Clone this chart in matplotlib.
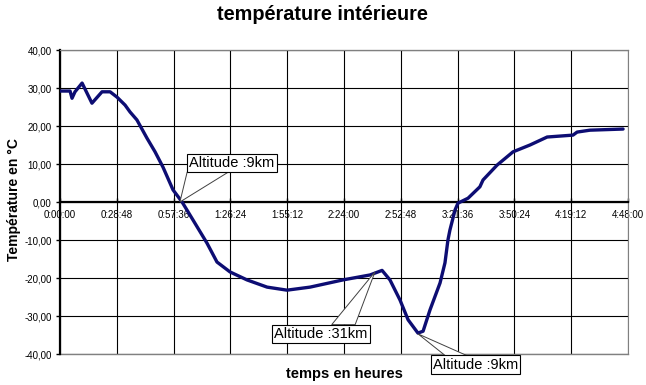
import matplotlib
matplotlib.use("Agg")
import matplotlib.pyplot as plt
from matplotlib.patches import Polygon

plt.rcParams['font.family'] = ['Liberation Sans', 'DejaVu Sans']

# time in minutes since start, temperature in °C
time_min = [0.0, 5.1, 6.1, 7.6, 11.2, 16.2, 21.3, 25.4, 28.9, 33.0, 35.5, 39.0,
            44.1, 48.2, 52.2, 57.3, 61.9, 67.4, 74.5, 79.6, 86.2, 94.8, 105.0,
            115.1, 126.8, 143.5, 157.2, 163.3, 167.3, 172.4, 176.5, 181.5, 184.1,
            187.6, 192.7, 195.2, 196.7, 197.7, 200.3, 201.8, 206.9, 212.9, 214.5,
            221.6, 229.7, 238.3, 247.0, 260.1, 262.2, 268.7, 285.5]
temp_c = [29.2, 29.2, 27.3, 29.0, 31.3, 26.0, 29.0, 29.0, 27.6, 25.5, 23.7, 21.6,
          16.8, 13.2, 9.2, 3.2, 0.0, -4.7, -10.8, -15.8, -18.4, -20.5, -22.4,
          -23.2, -22.4, -20.5, -19.2, -18.0, -20.5, -25.8, -31.0, -34.5, -34.0,
          -28.4, -21.3, -16.0, -10.0, -7.4, -2.1, -0.3, 1.0, 4.0, 5.8,
          9.7, 13.2, 15.0, 17.1, 17.6, 18.4, 18.9, 19.2]

x_ticks = [0, 28.8, 57.6, 86.4, 115.2, 144.0, 172.8, 201.6, 230.4, 259.2, 288.0]
x_tick_labels = ["0:00:00", "0:28:48", "0:57:36", "1:26:24", "1:55:12", "2:24:00",
                 "2:52:48", "3:21:36", "3:50:24", "4:19:12", "4:48:00"]
y_ticks = [-40, -30, -20, -10, 0, 10, 20, 30, 40]
y_tick_labels = ["-40,00", "-30,00", "-20,00", "-10,00", "0,00", "10,00", "20,00", "30,00", "40,00"]

annot_text = ["Altitude :9km", "Altitude :31km", "Altitude :9km"]
annot_point = [(60.8, 0.0), (159.7, -18.4), (181.5, -34.7)]
annot_box = [(87.2, 10.3), (132.3, -34.7), (210.7, -42.8)]

# callout base: fraction range along box edge, and which edge
annot_base = [(0.0, 0.46, 'bottom'), (0.61, 0.85, 'top'), (0.16, 0.40, 'top')]

fig = plt.figure(figsize=(6.46, 3.85), dpi=100)
ax = fig.add_axes([60/646, 1-354/385, 568/646, 304/385])

ax.spines['bottom'].set_position(('data', 0))

ax.set_xlim(0, 288)
ax.set_ylim(-40, 40)

ax.set_xticks(x_ticks)
ax.set_xticklabels(x_tick_labels)
ax.set_yticks(y_ticks)
ax.set_yticklabels(y_tick_labels)

ax.grid(True, color='black', linewidth=0.8)
ax.set_axisbelow(True)

for s in ['top', 'right']:
    ax.spines[s].set_color('#808080')
    ax.spines[s].set_linewidth(0.8)
ax.spines['left'].set_color('black')
ax.spines['left'].set_linewidth(1.6)
ax.spines['bottom'].set_color('black')
ax.spines['bottom'].set_linewidth(1.6)
ax.axhline(-40, color='#808080', linewidth=1.0, clip_on=False)
ax.axhline(40, color='black', linewidth=0.8, clip_on=False)

ax.tick_params(axis='x', length=3, direction='in', pad=6, width=1, labelsize=7)
ax.tick_params(axis='y', length=3, direction='out', pad=3, width=1, labelsize=7)

ax.plot(time_min, temp_c, color='#0d0d73', linewidth=2.4, zorder=3,
        solid_joinstyle='round', solid_capstyle='round')

texts = []
for txt, bx in zip(annot_text, annot_box):
    t = ax.text(bx[0], bx[1], txt, ha='center', va='center', fontsize=10.5,
                zorder=6, clip_on=False,
                bbox=dict(boxstyle='square,pad=0.15', fc='white', ec='black', lw=0.8))
    texts.append(t)

fig.canvas.draw()
inv = ax.transData.inverted()
for t, pt, base in zip(texts, annot_point, annot_base):
    ext = t.get_bbox_patch().get_window_extent()
    f0, f1, edge = base
    yb = ext.y0 if edge == 'bottom' else ext.y1
    p0 = inv.transform((ext.x0 + f0 * ext.width, yb))
    p1 = inv.transform((ext.x0 + f1 * ext.width, yb))
    poly = Polygon([pt, tuple(p0), tuple(p1)], closed=True, fc='white',
                   ec='#404040', lw=0.7, zorder=5, clip_on=False)
    ax.add_patch(poly)

fig.text(322/646, 1-14/385, "température intérieure", ha='center', va='center',
         fontsize=14.3, fontweight='bold')
fig.text(344/646, 1-374/385, "temps en heures", ha='center', va='center',
         fontsize=10.5, fontweight='bold')
fig.text(14/646, 1-200/385, "Température en °C", ha='center', va='center',
         fontsize=10, fontweight='bold', rotation=90)

fig.savefig("out.png", dpi=100)
